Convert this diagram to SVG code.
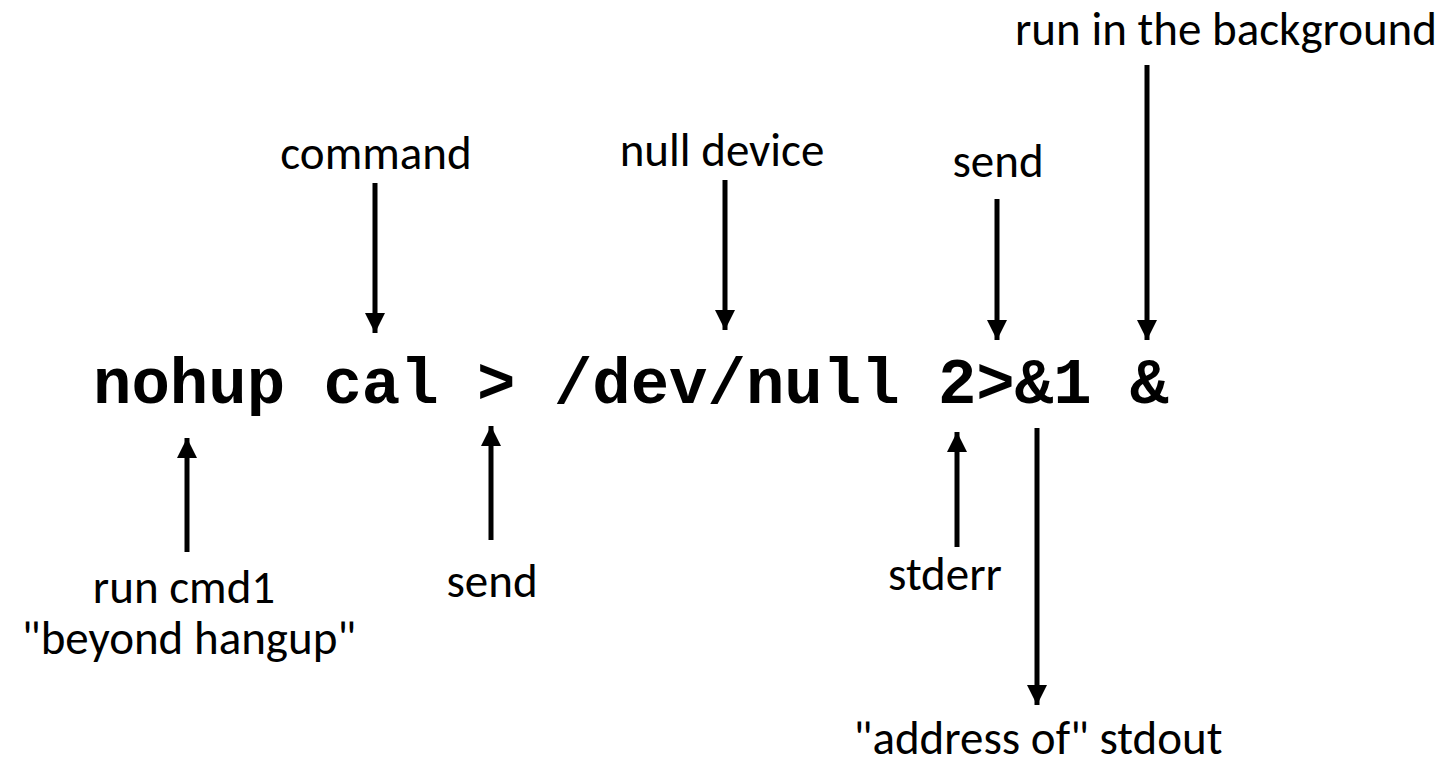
<svg xmlns="http://www.w3.org/2000/svg" width="1449" height="766" viewBox="0 0 1449 766">
  <defs>
    <marker id="ah" markerUnits="userSpaceOnUse" markerWidth="20" markerHeight="20" refX="20" refY="10" orient="auto" viewBox="0 0 20 20">
      <polygon points="0,0 20,10 0,20" fill="#000"/>
    </marker>
  </defs>
  <style>
    .code { font-family: "Liberation Mono", "Courier New", monospace; font-weight: bold; font-size: 64px; fill: #000; }
    .lbl { font-family: Carlito, Lato, "Open Sans", sans-serif; font-size: 47px; fill: #000; text-anchor: middle; }
    .arr { stroke: #000; stroke-width: 5; fill: none; marker-end: url(#ah); }
  </style>
  <rect width="1449" height="766" fill="#fff"/>
  <g id="command-line">
    <text class="code" x="93" y="403" xml:space="preserve">nohup cal &gt; /dev/null 2&gt;&amp;1 &amp;</text>
  </g>
  <g id="label-background"><text class="lbl" x="1226" y="45">run in the background</text></g>
  <g id="label-command"><text class="lbl" x="376" y="169">command</text></g>
  <g id="label-null"><text class="lbl" x="722" y="166">null device</text></g>
  <g id="label-send-top"><text class="lbl" x="998" y="177">send</text></g>
  <g id="label-nohup"><text class="lbl" x="184" y="603">run cmd1</text><text class="lbl" x="189" y="654">"beyond hangup"</text></g>
  <g id="label-send-bottom"><text class="lbl" x="492" y="597">send</text></g>
  <g id="label-stderr"><text class="lbl" x="945" y="590">stderr</text></g>
  <g id="label-address"><text class="lbl" x="1038" y="754">"address of" stdout</text></g>
  <g id="connectors">
    <line class="arr" x1="375" y1="183" x2="375" y2="333"/>
    <line class="arr" x1="725" y1="180" x2="725" y2="330"/>
    <line class="arr" x1="997" y1="199" x2="997" y2="340"/>
    <line class="arr" x1="1147" y1="65" x2="1147" y2="340"/>
    <line class="arr" x1="187" y1="552" x2="187" y2="438"/>
    <line class="arr" x1="491" y1="540" x2="491" y2="426"/>
    <line class="arr" x1="957" y1="547" x2="957" y2="432"/>
    <line class="arr" x1="1037" y1="428" x2="1037" y2="705"/>
  </g>
</svg>
